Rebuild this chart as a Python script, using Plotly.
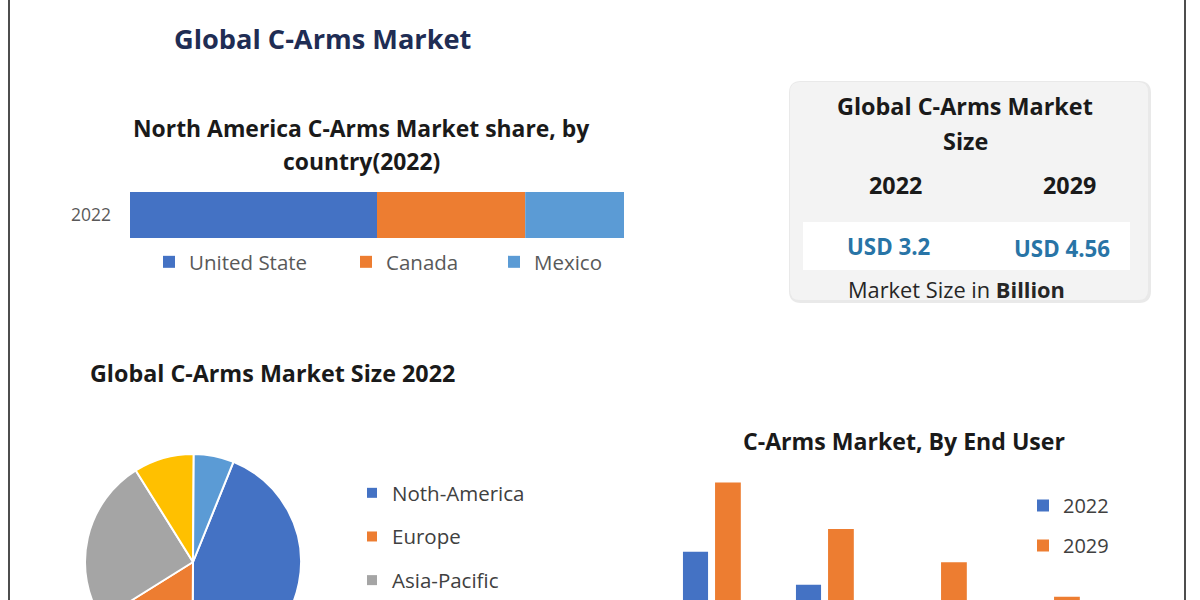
import plotly.graph_objects as go

W, H = 1200, 720

# ---------------- data ----------------
na_year = ["2022"]
na_countries = ["United State", "Canada", "Mexico"]
na_share = [50, 30, 20]

regions = ["Noth-America", "Europe", "Asia-Pacific", "Middle East and Africa", "South America"]
region_share = [44, 16, 25, 9, 6]

end_users = ["Hospitals", "Diagnostic Centers", "Ambulatory Surgical Centers", "Others"]
size_2022 = [1.08, 0.86, 0.71, 0.55]
size_2029 = [1.54, 1.23, 1.01, 0.78]

market_years = ["2022", "2029"]
market_values = ["USD 3.2", "USD 4.56"]

# ---------------- styles ----------------
BLUE, ORANGE, GRAY, YELLOW, LBLUE = "#4472C4", "#ED7D31", "#A5A5A5", "#FFC000", "#5B9BD5"
na_colors = [BLUE, ORANGE, LBLUE]
na_legend_w = [152, 103, 90]
region_colors = [BLUE, ORANGE, GRAY, YELLOW, LBLUE]
TFONT = "Open Sans"
LFONT = "Open Sans"
N_VISIBLE_REGION_LEGEND = 3  # the lower legend rows fall below the visible frame


def fx(px):
    return px / W


def fy(py):
    return 1 - py / H


fig = go.Figure()

# stacked horizontal bar (North America share)
base = 0
for name, val, col, lw in zip(na_countries, na_share, na_colors, na_legend_w):
    fig.add_trace(go.Bar(
        y=na_year, x=[val], base=[base], orientation="h", name=name,
        marker=dict(color=col, line=dict(width=0)), width=1, legendwidth=lw,
        xaxis="x", yaxis="y", legend="legend", hoverinfo="name+x"))
    base += val

# pie
fig.add_trace(go.Pie(
    labels=regions, values=region_share, sort=False, direction="clockwise",
    rotation=22, textinfo="none", showlegend=False,
    marker=dict(colors=region_colors, line=dict(color="white", width=2)),
    domain=dict(x=[fx(85), fx(301)], y=[fy(670), fy(454)])))

# pie legend entries
for i, (name, col) in enumerate(zip(regions, region_colors)):
    fig.add_trace(go.Scatter(
        x=[None], y=[None], mode="markers", name=name,
        marker=dict(symbol="square", size=10, color=col),
        showlegend=i < N_VISIBLE_REGION_LEGEND,
        xaxis="x2", yaxis="y2", legend="legend3", legendgroup=name))

# end-user grouped bars
fig.add_trace(go.Bar(
    x=end_users, y=size_2022, name="2022", width=0.222, offset=-0.257,
    marker=dict(color=BLUE, line=dict(width=0)),
    xaxis="x2", yaxis="y2", legend="legend2", legendgroup="a"))
fig.add_trace(go.Bar(
    x=end_users, y=size_2029, name="2029", width=0.228, offset=0.027,
    marker=dict(color=ORANGE, line=dict(width=0)),
    xaxis="x2", yaxis="y2", legend="legend2", legendgroup="b"))

# ---------------- shapes ----------------
shapes = []
for xpx in (9, 1185):
    shapes.append(dict(type="line", xref="paper", yref="paper",
                       x0=fx(xpx), x1=fx(xpx), y0=0, y1=1,
                       line=dict(color="#4D4D4D", width=2)))


def rrect(hw, hh, r):
    return (f"M {-hw+r},{-hh} L {hw-r},{-hh} Q {hw},{-hh} {hw},{-hh+r} "
            f"L {hw},{hh-r} Q {hw},{hh} {hw-r},{hh} L {-hw+r},{hh} "
            f"Q {-hw},{hh} {-hw},{hh-r} L {-hw},{-hh+r} Q {-hw},{-hh} {-hw+r},{-hh} Z")


cx, cy = (790 + 1148) / 2, (82 + 300) / 2
shapes.append(dict(type="path", xref="paper", yref="paper", xsizemode="pixel", ysizemode="pixel",
                   xanchor=fx(cx + 1), yanchor=fy(cy + 1), path=rrect(181, 111, 12),
                   fillcolor="#E9E9E9", line=dict(width=0), layer="below"))
shapes.append(dict(type="path", xref="paper", yref="paper", xsizemode="pixel", ysizemode="pixel",
                   xanchor=fx(cx), yanchor=fy(cy), path=rrect(179, 109, 10),
                   fillcolor="#F3F3F3", line=dict(width=0), layer="below"))
shapes.append(dict(type="rect", xref="paper", yref="paper",
                   x0=fx(803), x1=fx(1130), y0=fy(270), y1=fy(222),
                   fillcolor="white", line=dict(width=0), layer="below"))

# ---------------- text ----------------
ann = []


def text(t, x, y, size, color="#1A1A1A", family=TFONT):
    ann.append(dict(text=t, x=fx(x), y=fy(y), xref="paper", yref="paper",
                    xanchor="center", yanchor="middle", showarrow=False,
                    font=dict(family=family, size=size, color=color)))


text("<b>Global C-Arms Market</b>", 322, 38, 27.2, "#1F2D54")
text("<b>North America C-Arms Market share, by</b>", 361, 128, 22.9)
text("<b>country(2022)</b>", 361, 162, 22.9)
text("<b>Global C-Arms Market Size 2022</b>", 272, 373, 23.3)
text("<b>C-Arms Market, By End User</b>", 904, 441, 23.1)
text("<b>Global C-Arms Market</b>", 965, 106, 23.4)
text("<b>Size</b>", 965, 141, 23.4)
text(f"<b>{market_years[0]}</b>", 895, 185, 23.3)
text(f"<b>{market_years[1]}</b>", 1069, 185, 23.3)
text(f"<b>{market_values[0]}</b>", 889, 246, 22.3, "#2874A6")
text(f"<b>{market_values[1]}</b>", 1062, 248, 22.3, "#2874A6")
text("Market Size in <b>Billion</b>", 956, 289, 21.8, "#262626")

fig.update_layout(
    width=W, height=H, margin=dict(l=0, r=0, t=0, b=0),
    paper_bgcolor="white", plot_bgcolor="rgba(0,0,0,0)",
    barmode="overlay",
    shapes=shapes, annotations=ann,
    xaxis=dict(domain=[fx(130), fx(624)], range=[0, 100], visible=False, anchor="y"),
    yaxis=dict(domain=[fy(238), fy(192)], type="category", range=[-0.5, 0.5], anchor="x",
               showgrid=False, zeroline=False, showline=False, ticks="",
               ticklabelstandoff=18,
               tickfont=dict(family=LFONT, size=17.5, color="#595959")),
    xaxis2=dict(domain=[fx(655.5), fx(1107.5)], type="category", range=[-0.5, 3.5],
                anchor="y2", showgrid=False, zeroline=False, showticklabels=False, ticks=""),
    yaxis2=dict(domain=[fy(714), fy(470)], range=[0, 1.623], anchor="x2", visible=False),
    legend=dict(orientation="h", x=fx(149), y=fy(262), xanchor="left", yanchor="middle",
                font=dict(family=LFONT, size=20.5, color="#595959"), bgcolor="rgba(0,0,0,0)"),
    legend2=dict(x=fx(1023), y=fy(486), xanchor="left", yanchor="top", tracegroupgap=11,
                 font=dict(family=LFONT, size=20, color="#404040"), bgcolor="rgba(0,0,0,0)"),
    legend3=dict(x=fx(352), y=fy(473), xanchor="left", yanchor="top", tracegroupgap=14,
                 font=dict(family=LFONT, size=20.5, color="#404040"), bgcolor="rgba(0,0,0,0)"),
)

fig.write_html(
    "out.html",
    config={"displayModeBar": False},
    post_script="document.body.style.margin='0';document.body.style.overflow='hidden';"
                "document.documentElement.style.overflow='hidden';",
)
